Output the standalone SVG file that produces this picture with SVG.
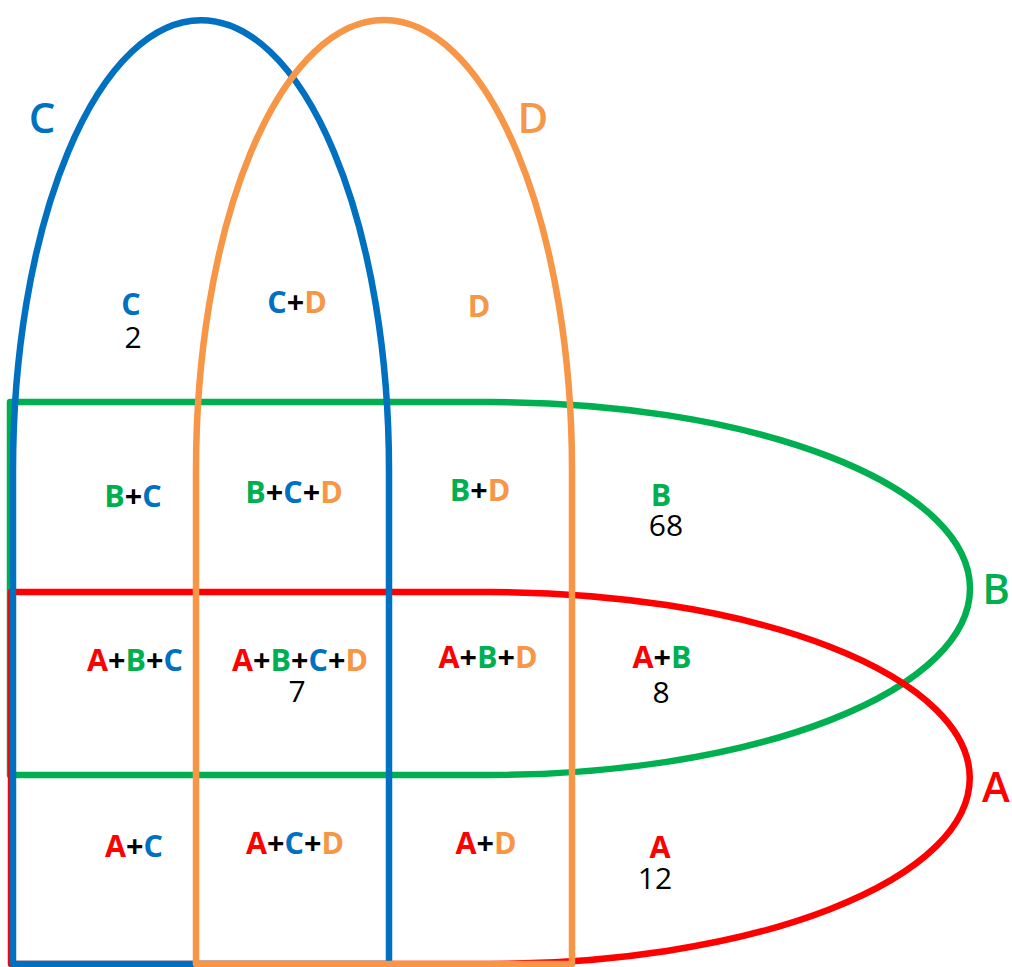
<svg xmlns="http://www.w3.org/2000/svg" width="1012" height="967" viewBox="0 0 1012 967">
<style>
.set{fill:none;stroke-width:6.5;stroke-linejoin:round}
.a{stroke:#FF0000}.b{stroke:#00B050}.c{stroke:#0070C0}.d{stroke:#F79646}
text{font-family:"Open Sans","Liberation Sans",sans-serif;text-anchor:middle}
.lbl{font-weight:bold;font-size:30.5px;fill:#000}
.num{font-size:30px;font-weight:normal;fill:#000}
.big{font-size:42px;font-weight:600}
.tA{fill:#FF0000}.tB{fill:#00B050}.tC{fill:#0070C0}.tD{fill:#F79646}
</style>
<rect width="1012" height="967" fill="#fff"/>
<g id="set-B"><path class="set b" d="M 10,402 H 490 A 480 186.5 0 0 1 490,775 H 10 Z"/><text class="big tB" x="996" y="604">B</text></g>
<g id="set-A"><path class="set a" d="M 11,592 H 490 A 480 186 0 0 1 490,964 H 11 Z"/><text class="big tA" x="996" y="802">A</text></g>
<g id="set-C"><path class="set c" d="M 13,964 V 470 A 188 450 0 0 1 389,470 V 964 Z"/><text class="big tC" x="42" y="133">C</text></g>
<g id="set-D"><path class="set d" d="M 196,964 V 470 A 188 450 0 0 1 572,470 V 964 Z"/><text class="big tD" x="533" y="133">D</text></g>
<g id="regions">
<text class="lbl" x="131" y="315"><tspan class="tC">C</tspan><tspan class="num" x="133" y="348">2</tspan></text>
<text class="lbl" x="297" y="313"><tspan class="tC">C</tspan>+<tspan class="tD">D</tspan></text>
<text class="lbl" x="479" y="317"><tspan class="tD">D</tspan></text>
<text class="lbl" x="133" y="507"><tspan class="tB">B</tspan>+<tspan class="tC">C</tspan></text>
<text class="lbl" x="294" y="503"><tspan class="tB">B</tspan>+<tspan class="tC">C</tspan>+<tspan class="tD">D</tspan></text>
<text class="lbl" x="480" y="501"><tspan class="tB">B</tspan>+<tspan class="tD">D</tspan></text>
<text class="lbl" x="661" y="506"><tspan class="tB">B</tspan><tspan class="num" x="666" y="536">68</tspan></text>
<text class="lbl" x="135" y="671"><tspan class="tA">A</tspan>+<tspan class="tB">B</tspan>+<tspan class="tC">C</tspan></text>
<text class="lbl" x="300" y="671"><tspan class="tA">A</tspan>+<tspan class="tB">B</tspan>+<tspan class="tC">C</tspan>+<tspan class="tD">D</tspan><tspan class="num" x="297" y="702">7</tspan></text>
<text class="lbl" x="488" y="668"><tspan class="tA">A</tspan>+<tspan class="tB">B</tspan>+<tspan class="tD">D</tspan></text>
<text class="lbl" x="662" y="668"><tspan class="tA">A</tspan>+<tspan class="tB">B</tspan><tspan class="num" x="661" y="703">8</tspan></text>
<text class="lbl" x="134" y="857"><tspan class="tA">A</tspan>+<tspan class="tC">C</tspan></text>
<text class="lbl" x="295" y="854"><tspan class="tA">A</tspan>+<tspan class="tC">C</tspan>+<tspan class="tD">D</tspan></text>
<text class="lbl" x="486" y="854"><tspan class="tA">A</tspan>+<tspan class="tD">D</tspan></text>
<text class="lbl" x="660" y="858"><tspan class="tA">A</tspan><tspan class="num" x="655" y="889">12</tspan></text>
</g>
</svg>
